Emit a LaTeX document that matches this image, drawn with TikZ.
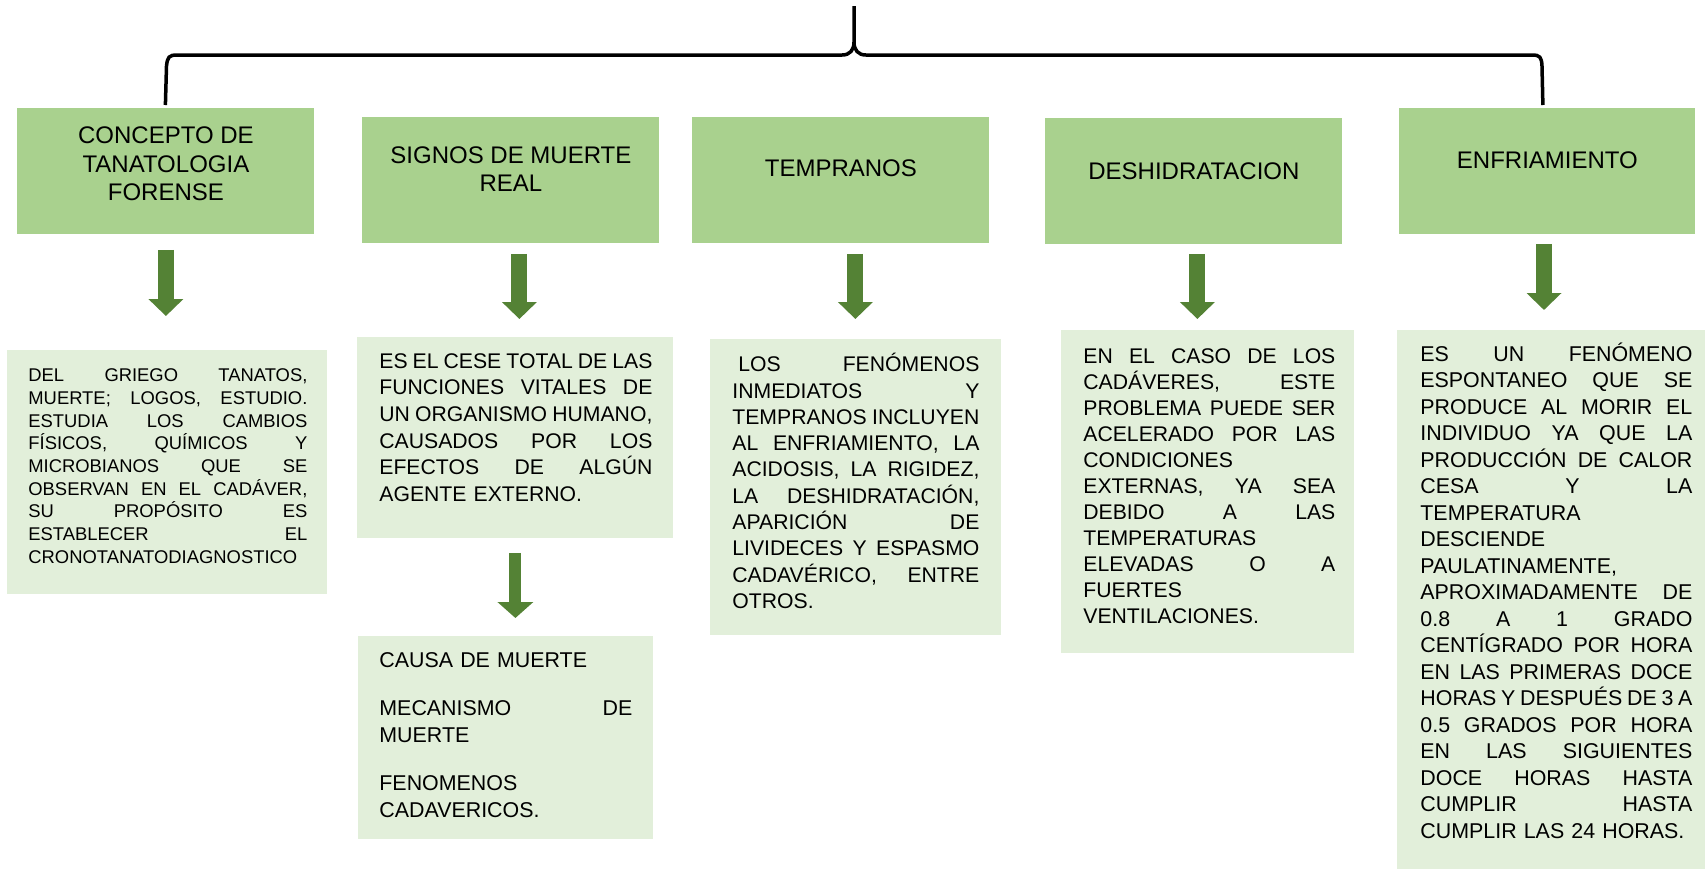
\documentclass[tikz,border=0pt]{standalone}
\usepackage{fontspec}
\setmainfont{Liberation Sans}
\usetikzlibrary{calc,arrows.meta}
\definecolor{headgreen}{HTML}{A9D18E}
\definecolor{palegreen}{HTML}{E2EFDA}
\definecolor{arrowgreen}{HTML}{548235}
\newcommand{\jl}[1]{\leavevmode\hbox to \linewidth{\spaceskip=0.278em plus 1fil minus 0.1em\xspaceskip=\spaceskip #1}}
\tikzset{every node/.style={inner sep=0pt}, >= {Triangle[width=17pt,length=8.5pt]},
  headbox/.style={fill=headgreen, anchor=north west, minimum width=148.5pt, minimum height=63pt},
  headtext/.style={anchor=base, align=center, font=\fontsize{12}{14.35}\selectfont},
  infobox/.style={fill=palegreen, anchor=north west},
  infotext/.style={anchor=base west, align=left},
  downarrow/.style={draw=arrowgreen, line width=8pt, ->},
  brace/.style={draw=black, line width=1.75pt}}

\begin{document}
\begin{tikzpicture}[x=0.5pt, y=-0.5pt]
            \useasboundingbox (0,0) rectangle (1705,869);
            \node [headbox] (h1) at (17,108) {};
            \node [headbox] (h2) at (362,117) {};
            \node [headbox] (h3) at (692,117) {};
            \node [headbox] (h4) at (1045,118) {};
            \node [headbox, minimum width=148pt] (h5) at (1399,108) {};
            \node [headtext] (h1t) at ($(h1.north)+(0,92.7)$) {CONCEPTO DE\\TANATOLOGIA\\FORENSE};
            \node [headtext] (h2t) at ($(h2.north)+(0,74.7)$) {SIGNOS DE MUERTE\\REAL};
            \node [headtext] (h3t) at ($(h3.north)+(0,59.7)$) {TEMPRANOS};
            \node [headtext] (h4t) at ($(h4.north)+(0,61)$) {DESHIDRATACION};
            \node [headtext] (h5t) at ($(h5.north)+(0,60.3)$) {ENFRIAMIENTO};

            \coordinate (top) at (854,6);
            \draw [brace] ($(h1.north)+(-0.5,-3)$) -- (166.5,66) .. controls (167.5,57) and (169,55) .. (177,55)
                -- (842,55) .. controls (850,55) and (854,50) .. (854,42) -- (top);
            \draw [brace] (854,42) .. controls (854,50) and (858,55) .. (866,55) -- (1532,55)
                .. controls (1540,55) and (1541.5,57) .. (1542,66) -- ($(h5.north)+(-4.5,-3)$);

            \node [infobox, minimum width=160pt, minimum height=122pt] (t1) at (7,350) {};
            \node [infobox, minimum width=158pt, minimum height=100.5pt] (t2) at (357,337) {};
            \node [infobox, minimum width=145.5pt, minimum height=148pt] (t3) at (710,339) {};
            \node [infobox, minimum width=146.5pt, minimum height=161.5pt] (t4) at (1061,330) {};
            \node [infobox, minimum width=154pt, minimum height=269.5pt] (t5) at (1397,330) {};
            \node [infobox, minimum width=147.5pt, minimum height=101.5pt] (c2) at (358,636) {};

            \draw [downarrow, shorten <=7.5pt, shorten >=17pt] (h1.south) -- (h1.south |- t1.north);
            \draw [downarrow, shorten <=5pt, shorten >=9pt] ($(h2.south)+(8.5,0)$) -- ($(h2.south |- t2.north)+(8.5,0)$);
            \draw [downarrow, shorten <=5pt, shorten >=10pt] ($(h3.south)+(14.5,0)$) -- ($(h3.south |- t3.north)+(14.5,0)$);
            \draw [downarrow, shorten <=4.5pt, shorten >=5.5pt] ($(h4.south)+(3.5,0)$) -- ($(h4.south |- t4.north)+(3.5,0)$);
            \draw [downarrow, shorten <=4.5pt, shorten >=10pt] ($(h5.south)+(-3.4,0)$) -- ($(h5.south |- t5.north)+(-3.4,0)$);
            \draw [downarrow, line width=6pt, -{Triangle[width=17.5pt,length=8pt]}, shorten <=7pt, shorten >=9pt] (t2.south) -- (c2.north -| t2.south);

            \node [infotext, text width=139.5pt, font=\fontsize{9.2}{11.35}\selectfont] (t1t) at ($(t1.north west)+(21,31.7)$)
                {\jl{DEL GRIEGO TANATOS,}\\ \jl{MUERTE; LOGOS, ESTUDIO.}\\ \jl{ESTUDIA LOS CAMBIOS}\\
                 \jl{FÍSICOS, QUÍMICOS Y}\\ \jl{MICROBIANOS QUE SE}\\ \jl{OBSERVAN EN EL CADÁVER,}\\
                 \jl{SU PROPÓSITO ES}\\ \jl{ESTABLECER EL}\\ CRONOTANATODIAGNOSTICO};
            \node [infotext, text width=136.5pt, font=\fontsize{10.6}{13.3}\selectfont] (t2t) at ($(t2.north west)+(22,31.3)$)
                {\jl{ES EL CESE TOTAL DE LAS}\\ \jl{FUNCIONES VITALES DE}\\ \jl{UN ORGANISMO HUMANO,}\\
                 \jl{CAUSADOS POR LOS}\\ \jl{EFECTOS DE ALGÚN}\\ AGENTE EXTERNO.};
            \node [infotext, text width=123.5pt, font=\fontsize{10.6}{13.15}\selectfont] (t3t) at ($(t3.north west)+(22,32.7)$)
                {\jl{\hspace*{3pt}LOS FENÓMENOS}\\ \jl{INMEDIATOS Y}\\ \jl{TEMPRANOS INCLUYEN}\\
                 \jl{AL ENFRIAMIENTO, LA}\\ \jl{ACIDOSIS, LA RIGIDEZ,}\\ \jl{LA DESHIDRATACIÓN,}\\
                 \jl{APARICIÓN DE}\\ \jl{LIVIDECES Y ESPASMO}\\ \jl{CADAVÉRICO, ENTRE}\\ OTROS.};
            \node [infotext, text width=126pt, font=\fontsize{10.6}{13}\selectfont] (t4t) at ($(t4.north west)+(22,33.3)$)
                {\jl{EN EL CASO DE LOS}\\ \jl{CADÁVERES, ESTE}\\ \jl{PROBLEMA PUEDE SER}\\ \jl{ACELERADO POR LAS}\\
                 CONDICIONES\\ \jl{EXTERNAS, YA SEA}\\ \jl{DEBIDO A LAS}\\ TEMPERATURAS\\ \jl{ELEVADAS O A}\\
                 FUERTES\\ VENTILACIONES.};
            \node [infotext, text width=136pt, font=\fontsize{10.7}{13.26}\selectfont] (t5t) at ($(t5.north west)+(23,31)$)
                {\jl{ES UN FENÓMENO}\\ \jl{ESPONTANEO QUE SE}\\ \jl{PRODUCE AL MORIR EL}\\ \jl{INDIVIDUO YA QUE LA}\\
                 \jl{PRODUCCIÓN DE CALOR}\\ \jl{CESA Y LA}\\ TEMPERATURA\\ DESCIENDE\\ PAULATINAMENTE,\\
                 \jl{APROXIMADAMENTE DE}\\ \jl{0.8 A 1 GRADO}\\ \jl{CENTÍGRADO POR HORA}\\ \jl{EN LAS PRIMERAS DOCE}\\
                 \jl{HORAS Y DESPUÉS DE 3 A}\\ \jl{0.5 GRADOS POR HORA}\\ \jl{EN LAS SIGUIENTES}\\ \jl{DOCE HORAS HASTA}\\
                 \jl{CUMPLIR HASTA}\\ CUMPLIR LAS 24 HORAS.};
            \node [infotext, text width=126.5pt, font=\fontsize{10.7}{13.5}\selectfont] (c2t) at ($(c2.north west)+(21,31)$)
                {CAUSA DE MUERTE\\[10.5pt] \jl{MECANISMO DE}\\ MUERTE\\[10.5pt] FENOMENOS\\ CADAVERICOS.};
        \end{tikzpicture}
\end{document}
